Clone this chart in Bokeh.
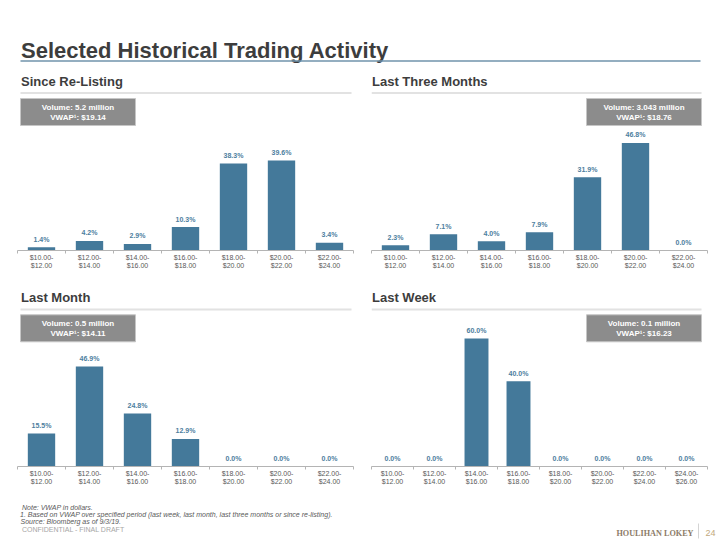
from bokeh.plotting import figure
from bokeh.models import Range1d, FixedTicker, LinearAxis
from bokeh.layouts import column, row
from bokeh.embed import file_html
from bokeh.resources import INLINE
from bokeh.core.properties import value

# ---------------- data ----------------
ranges_7 = ["$10.00-\n$12.00", "$12.00-\n$14.00", "$14.00-\n$16.00", "$16.00-\n$18.00",
            "$18.00-\n$20.00", "$20.00-\n$22.00", "$22.00-\n$24.00"]
ranges_8 = ranges_7 + ["$24.00-\n$26.00"]

since_relisting = [1.4, 4.2, 2.9, 10.3, 38.3, 39.6, 3.4]
last_three_months = [2.3, 7.1, 4.0, 7.9, 31.9, 46.8, 0.0]
last_month = [15.5, 46.9, 24.8, 12.9, 0.0, 0.0, 0.0]
last_week = [0.0, 0.0, 60.0, 40.0, 0.0, 0.0, 0.0, 0.0]

panel_titles = ["Since Re-Listing", "Last Three Months", "Last Month", "Last Week"]
volumes = ["Volume: 5.2 million", "Volume: 3.043 million", "Volume: 0.5 million", "Volume: 0.1 million"]
vwaps = ["VWAP\u00b9: $19.14", "VWAP\u00b9: $18.76", "VWAP\u00b9: $14.11", "VWAP\u00b9: $16.23"]

main_title = "Selected Historical Trading Activity"
notes = ["Note: VWAP in dollars.",
         "1.  Based on VWAP over specified period (last week, last month, last three months or since re-listing).",
         "Source: Bloomberg as of 9/3/19."]
confidential = "CONFIDENTIAL - FINAL DRAFT"
brand = "HOULIHAN LOKEY"
page_no = "24"

# ---------------- style ----------------
FONT = value("Liberation Sans")
BAR = "#44799a"
LABEL = "#4d7e9e"
DARK = "#3d3d3d"
W = 720
FRAME_W = 336


def blank(w, h):
    p = figure(width=w, height=h, x_range=Range1d(0, w), y_range=Range1d(h, 0),
               output_backend="svg", toolbar_location=None,
               x_axis_location=None, y_axis_location=None)
    p.min_border = 0
    p.outline_line_color = None
    p.grid.visible = False
    return p


def panel(cats, vals, title, vol, vwap, ymax, frame_h, bottom, left, right,
          title_x, title_y, rule_x0, rule_x1, rule_y, box_x0, box_x1, box_y0):
    n = len(cats)
    idx = list(range(n))
    p = figure(width=left + FRAME_W + right, height=frame_h + bottom,
               x_range=Range1d(-0.5, n - 0.5), y_range=Range1d(0, ymax),
               output_backend="svg", toolbar_location=None,
               y_axis_location=None)
    p.min_border = 0
    p.min_border_left = left
    p.min_border_right = right
    p.min_border_bottom = bottom
    p.outline_line_color = None
    p.grid.visible = False
    p.extra_x_ranges = {"px": Range1d(0, FRAME_W)}
    p.extra_y_ranges = {"px": Range1d(frame_h, 0)}

    # axis line with small ticks at the category boundaries
    ax = p.xaxis[0]
    ax.ticker = FixedTicker(ticks=[i - 0.5 for i in range(n + 1)])
    ax.axis_line_color = "#b4b4b4"
    ax.axis_line_width = 1
    ax.major_tick_line_color = "#b4b4b4"
    ax.minor_tick_line_color = None
    ax.major_tick_out = 3
    ax.major_tick_in = 0
    ax.major_label_standoff = 0
    ax.major_label_text_font_size = "0px"
    ax.major_label_text_color = None

    # category labels
    lab = LinearAxis(ticker=FixedTicker(ticks=idx),
                     major_label_overrides={i: c for i, c in zip(idx, cats)})
    lab.axis_line_color = None
    lab.major_tick_line_color = None
    lab.minor_tick_line_color = None
    lab.major_tick_out = 0
    lab.major_tick_in = 0
    lab.major_label_standoff = 0
    lab.major_label_text_font = "Liberation Sans"
    lab.major_label_text_font_size = "7px"
    lab.major_label_text_color = "#595959"
    lab.major_label_text_line_height = 1.2
    p.add_layout(lab, "below")

    p.vbar(x=idx, top=vals, width=0.57, fill_color=BAR, line_color=None)
    p.text(x=idx, y=vals, text=[f"{v:.1f}%" for v in vals], y_offset=-8,
           text_align="center", text_baseline="middle", text_font=FONT,
           text_font_style="bold", text_font_size="7px", text_color=LABEL)

    # subtitle, rule, box (pixel overlay)
    p.text(x=[title_x], y=[title_y], text=[title], x_range_name="px", y_range_name="px",
           text_align="left", text_baseline="middle", text_font=FONT,
           text_font_style="bold", text_font_size="13px", text_color=DARK)
    p.segment(x0=[rule_x0], x1=[rule_x1], y0=[rule_y], y1=[rule_y],
              x_range_name="px", y_range_name="px", line_color="#e2e2e2", line_width=2)
    p.quad(left=[box_x0], right=[box_x1], top=[box_y0], bottom=[box_y0 + 27],
           x_range_name="px", y_range_name="px", fill_color="#8c8c8c",
           line_color="#c6c6c6", line_width=1)
    cx = (box_x0 + box_x1) / 2
    p.text(x=[cx, cx], y=[box_y0 + 9, box_y0 + 18.5], text=[vol, vwap],
           x_range_name="px", y_range_name="px", text_align="center",
           text_baseline="middle", text_font=FONT, text_font_style="bold",
           text_font_size="8px", text_color="white")
    return p


# ---------------- header ----------------
head = blank(W, 70)
head.text(x=[20.5], y=[50], text=[main_title], text_align="left", text_baseline="alphabetic",
          text_font=FONT, text_font_style="bold", text_font_size="22px", text_color=DARK)
head.segment(x0=[20], x1=[700], y0=[60.5], y1=[60.5], line_color="#7093ab", line_width=1.5)

# ---------------- panels ----------------
tl = panel(ranges_7, since_relisting, panel_titles[0], volumes[0], vwaps[0],
           ymax=79.3, frame_h=180, bottom=30, left=17, right=7,
           title_x=3.5, title_y=11, rule_x0=3, rule_x1=334, rule_y=22.5,
           box_x0=3, box_x1=118, box_y0=28)
tr = panel(ranges_7, last_three_months, panel_titles[1], volumes[1], vwaps[1],
           ymax=78.3, frame_h=180, bottom=30, left=11, right=13,
           title_x=0.5, title_y=11, rule_x0=0, rule_x1=330, rule_y=22.5,
           box_x0=215, box_x1=330, box_y0=28)
bl = panel(ranges_7, last_month, panel_titles[2], volumes[2], vwaps[2],
           ymax=87.2, frame_h=186, bottom=28, left=17, right=7,
           title_x=3.5, title_y=16.7, rule_x0=3, rule_x1=334, rule_y=29,
           box_x0=3, box_x1=118, box_y0=34.3)
br = panel(ranges_8, last_week, panel_titles[3], volumes[3], vwaps[3],
           ymax=87.2, frame_h=186, bottom=28, left=11, right=13,
           title_x=0.5, title_y=16.7, rule_x0=0, rule_x1=330, rule_y=29,
           box_x0=215, box_x1=330, box_y0=34.3)

# ---------------- footer ----------------
foot = blank(W, 46)
foot.text(x=[21.5, 19.5, 20], y=[12.7, 20, 27], text=notes, text_align="left",
          text_baseline="middle", text_font=FONT, text_font_style="italic",
          text_font_size="7px", text_color="#595959")
foot.text(x=[21.5], y=[35], text=[confidential], text_align="left", text_baseline="middle",
          text_font=FONT, text_font_size="7px", text_color="#a6a6a6")
foot.text(x=[693], y=[38.7], text=[brand], text_align="right", text_baseline="middle",
          text_font=value("Liberation Serif"), text_font_style="bold",
          text_font_size="8.2px", text_color="#8c7b67")
foot.segment(x0=[698], x1=[698], y0=[29], y1=[44], line_color="#d4d4d4", line_width=1)
foot.text(x=[705], y=[38.7], text=[page_no], text_align="left", text_baseline="middle",
          text_font=FONT, text_font_size="9px", text_color="#c2a87e")

layout = column(head, row(tl, tr), row(bl, br), foot)

open("out.html", "w").write(file_html(layout, INLINE))
